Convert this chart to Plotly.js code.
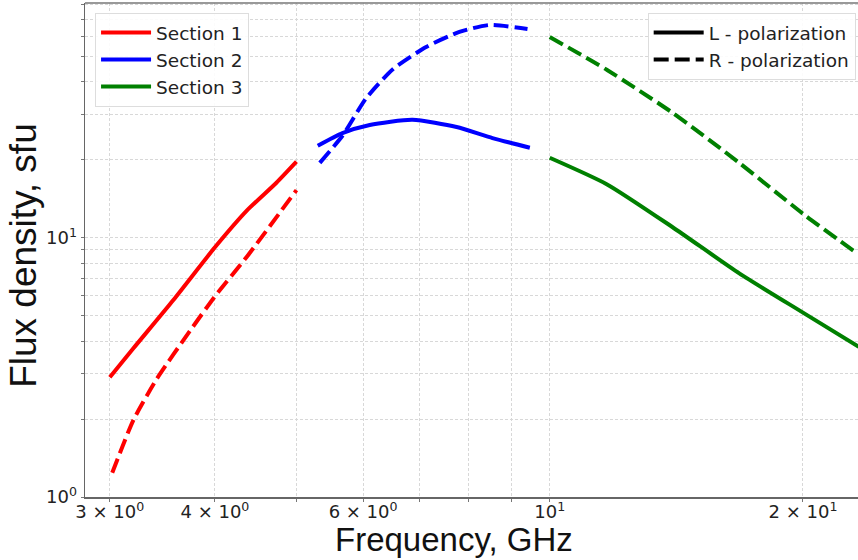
<!DOCTYPE html>
<html>
<head>
<meta charset="utf-8">
<script src="https://cdn.plot.ly/plotly-3.0.1.min.js"></script>
<style>html,body{margin:0;padding:0;background:#fff;}#chart{width:858px;height:560px;}</style>
</head>
<body>
<div id="chart"></div>
<script>
// Section 1 (3-5 GHz)
var s1Freq_L = [3.0, 3.2, 3.57, 4.0, 4.37, 4.73, 5.0];
var s1Flux_L = [2.9, 3.75, 5.76, 9.2, 12.8, 16.3, 19.7];
var s1Freq_R = [3.02, 3.2, 3.41, 3.74, 4.0, 4.37, 5.0];
var s1Flux_R = [1.24, 1.98, 2.85, 4.4, 5.95, 8.5, 15.3];
// Section 2 (5.3-9.5 GHz)
var s2Freq_L = [5.30, 5.67, 6.11, 6.87, 7.75, 8.55, 9.47];
var s2Flux_L = [22.7, 25.4, 27.3, 28.6, 26.8, 24.3, 22.3];
var s2Freq_R = [5.33, 5.67, 6.05, 6.51, 7.13, 7.81, 8.48, 9.41];
var s2Flux_R = [19.5, 24.8, 34.6, 44.8, 54.6, 62.4, 66.4, 64.1];
// Section 3 (10-23 GHz)
var s3Freq_L = [10.0, 11.7, 14.0, 16.8, 20.0, 23.3];
var s3Flux_L = [20.4, 16.1, 11.0, 7.3, 5.15, 3.8];
var s3Freq_R = [10.0, 11.7, 14.0, 16.8, 20.0, 23.1];
var s3Flux_R = [59.7, 44.5, 30.4, 19.5, 12.4, 8.8];

var xTickVals = [3, 4, 5, 6, 7, 8, 9, 10, 20];
var xTickText = ['3 × 10<sup>0</sup>', '4 × 10<sup>0</sup>', '', '6 × 10<sup>0</sup>', '', '', '', '10<sup>1</sup>', '2 × 10<sup>1</sup>'];
var yTickVals = [1, 2, 3, 4, 5, 6, 7, 8, 9, 10, 20, 30, 40, 50, 60, 70, 80];
var yTickText = ['10<sup>0</sup>', '', '', '', '', '', '', '', '', '10<sup>1</sup>', '', '', '', '', '', '', ''];

var sectionNames = ['Section 1', 'Section 2', 'Section 3'];
var polNames = ['L - polarization', 'R - polarization'];
var xTitle = 'Frequency, GHz';
var yTitle = 'Flux density, sfu';

var colors = ['#ff0000', '#0000ff', '#008000'];
var LW = 4;
var DASH = '15px,6px';
var SM = 0.6;

var traces = [
  {x: s1Freq_L, y: s1Flux_L, mode: 'lines', line: {color: colors[0], width: LW, shape: 'spline', smoothing: SM}, name: sectionNames[0], legend: 'legend', legendgroup: 'a'},
  {x: s2Freq_L, y: s2Flux_L, mode: 'lines', line: {color: colors[1], width: LW, shape: 'spline', smoothing: SM}, name: sectionNames[1], legend: 'legend', legendgroup: 'b'},
  {x: s3Freq_L, y: s3Flux_L, mode: 'lines', line: {color: colors[2], width: LW, shape: 'spline', smoothing: SM}, name: sectionNames[2], legend: 'legend', legendgroup: 'c'},
  {x: s1Freq_R, y: s1Flux_R, mode: 'lines', line: {color: colors[0], width: LW, dash: DASH, shape: 'spline', smoothing: SM}, showlegend: false},
  {x: s2Freq_R, y: s2Flux_R, mode: 'lines', line: {color: colors[1], width: LW, dash: DASH, shape: 'spline', smoothing: SM}, showlegend: false},
  {x: s3Freq_R, y: s3Flux_R, mode: 'lines', line: {color: colors[2], width: LW, dash: DASH, shape: 'spline', smoothing: SM}, showlegend: false},
  {x: [null], y: [null], mode: 'lines', line: {color: '#000', width: LW}, name: polNames[0], legend: 'legend2', legendgroup: 'd'},
  {x: [null], y: [null], mode: 'lines', line: {color: '#000', width: LW, dash: DASH}, name: polNames[1], legend: 'legend2', legendgroup: 'e'}
];

var tickFont = {family: 'DejaVu Sans', size: 18, color: '#222'};
var axisCommon = {
  type: 'log',
  showgrid: true,
  gridcolor: '#d8d8d8',
  griddash: '3px,2px',
  gridwidth: 1,
  zeroline: false,
  showline: true,
  linecolor: '#666',
  linewidth: 1.5,
  ticks: 'outside',
  ticklen: 3,
  tickcolor: '#777',
  tickmode: 'array',
  tickfont: tickFont
};

var legendCommon = {
  bgcolor: 'rgba(255,255,255,0.9)', bordercolor: '#ddd', borderwidth: 1,
  font: {family: 'DejaVu Sans', size: 18.5, color: '#222'},
  traceorder: 'grouped', tracegroupgap: 0, itemwidth: 50
};

var layout = {
  width: 858,
  height: 560,
  margin: {l: 85, r: 0, t: 3, b: 63},
  paper_bgcolor: '#fff',
  plot_bgcolor: '#fff',
  xaxis: Object.assign({}, axisCommon, {
    range: [Math.log10(2.803), Math.log10(23.25)],
    tickvals: xTickVals,
    ticktext: xTickText,
    ticklabelstandoff: -5
  }),
  yaxis: Object.assign({}, axisCommon, {
    range: [0, 1.907],
    tickvals: yTickVals,
    ticktext: yTickText
  }),
  annotations: [
    {text: xTitle, xref: 'paper', yref: 'paper', x: 0.477, y: -0.087, xanchor: 'center', yanchor: 'middle',
     showarrow: false, font: {family: 'Liberation Sans, Arial', size: 33, color: '#111'}},
    {text: yTitle, xref: 'paper', yref: 'paper', x: -0.079, y: 0.49, xanchor: 'center', yanchor: 'middle', textangle: -90,
     showarrow: false, font: {family: 'Liberation Sans, Arial', size: 37, color: '#111'}}
  ],
  shapes: [
    {type: 'line', xref: 'paper', yref: 'paper', x0: 0, x1: 1, y0: 1, y1: 1, line: {color: '#777', width: 1.5}}
  ],
  legend: Object.assign({}, legendCommon, {x: 0.013, y: 0.98, xanchor: 'left', yanchor: 'top'}),
  legend2: Object.assign({}, legendCommon, {x: 0.997, y: 0.98, xanchor: 'right', yanchor: 'top'})
};

Plotly.newPlot('chart', traces, layout, {displayModeBar: false, staticPlot: true});
</script>
</body>
</html>
